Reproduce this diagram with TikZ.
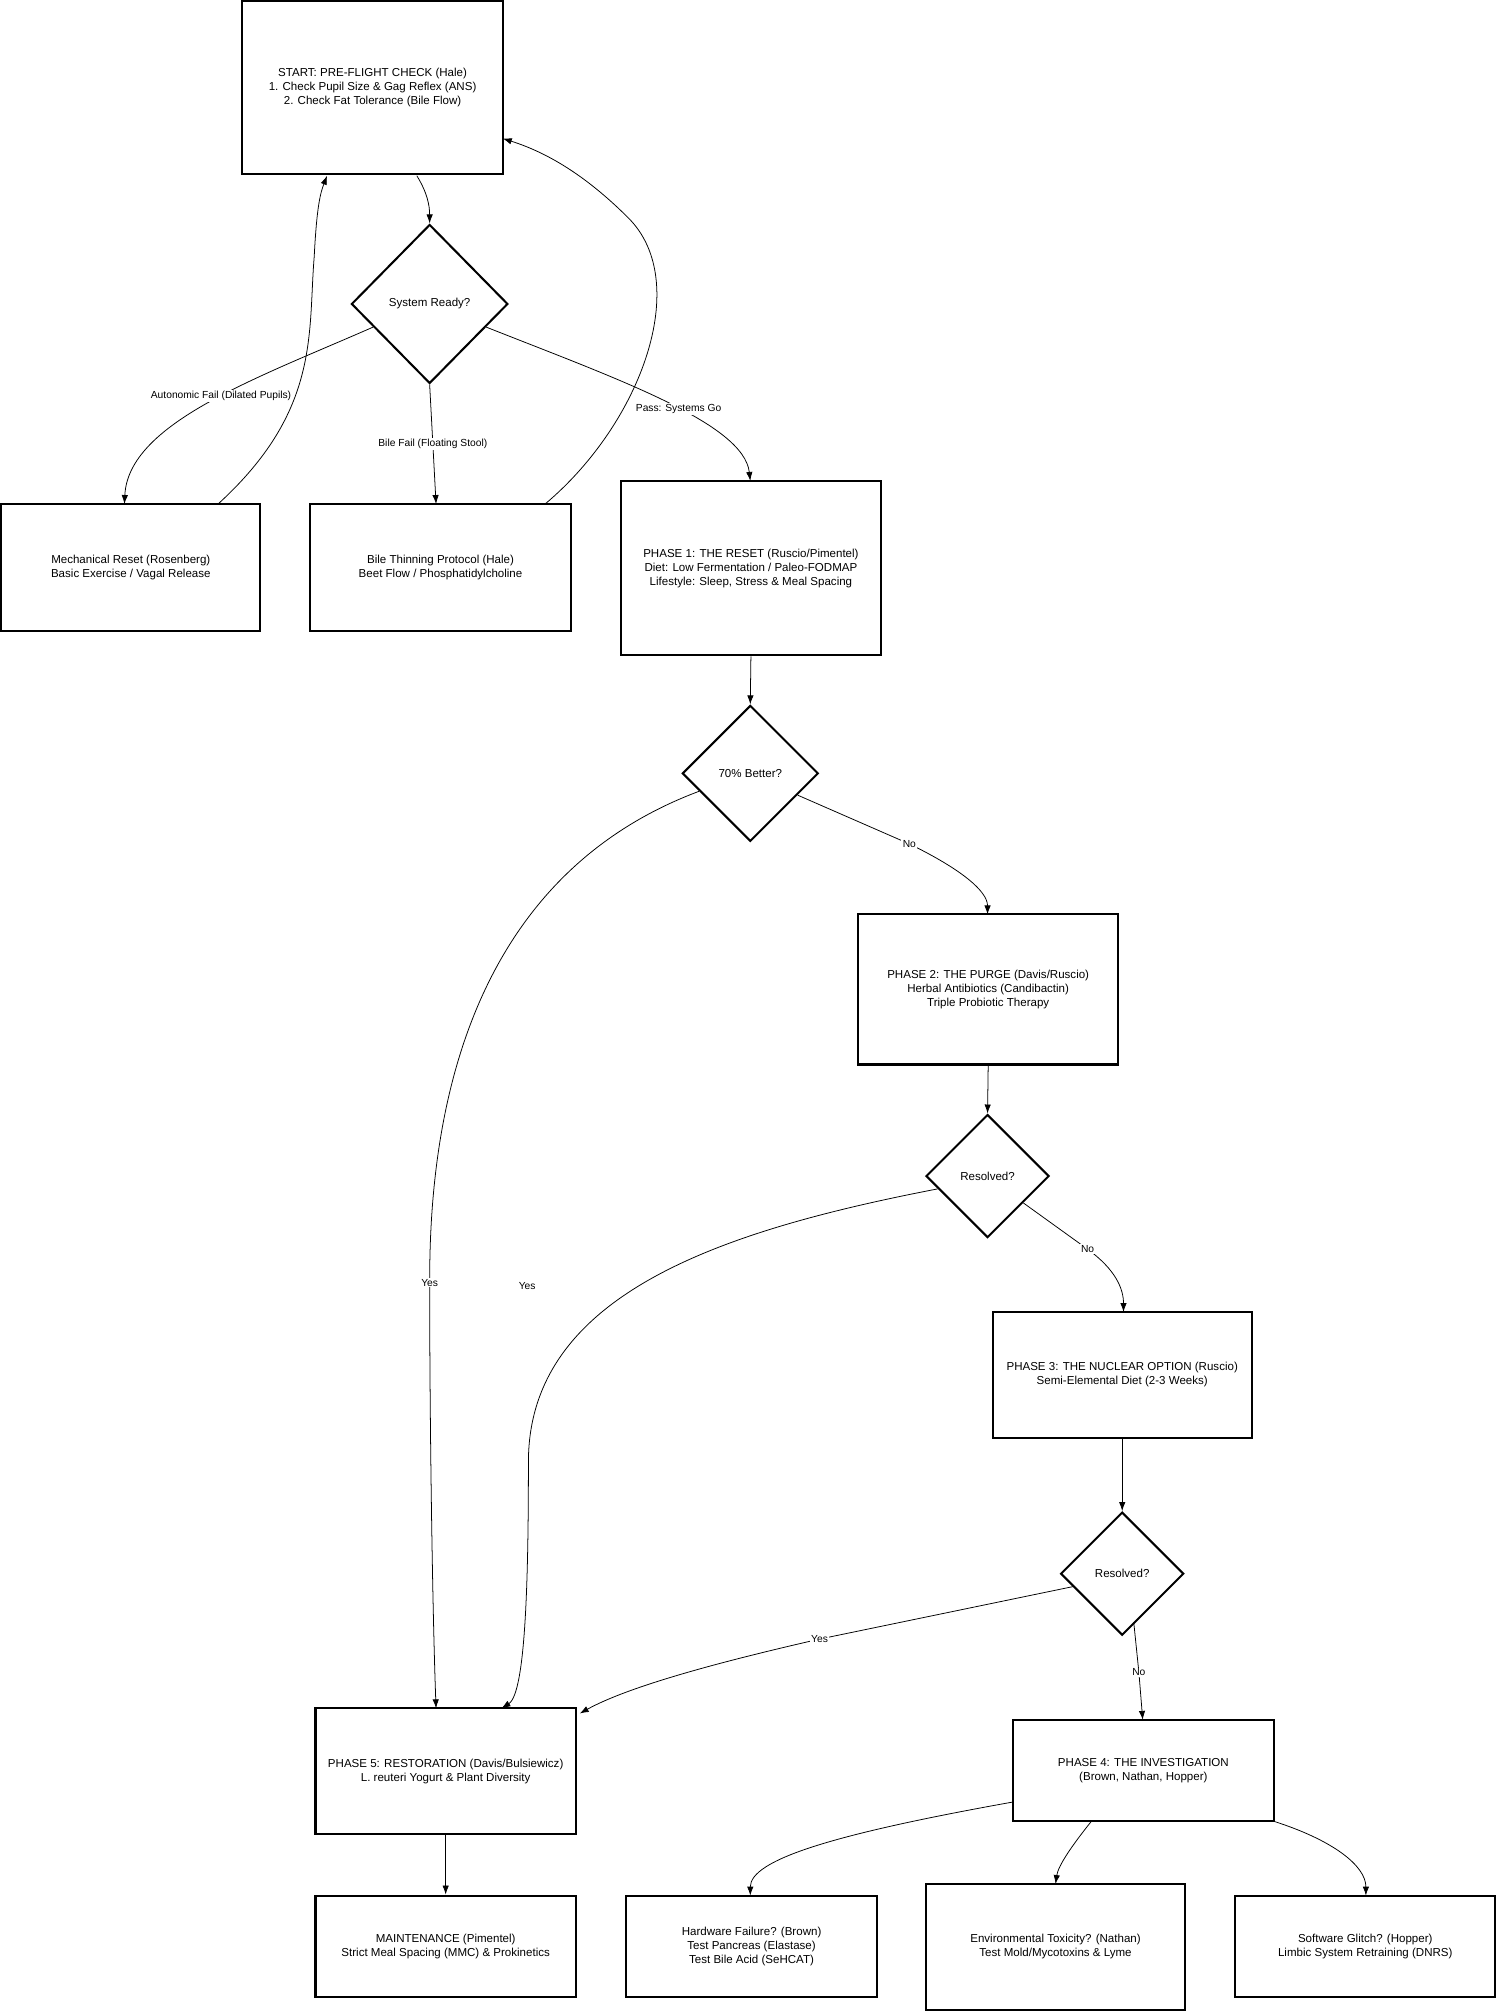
\documentclass[tikz,border=0pt]{standalone}
\usepackage{fontspec}
\setmainfont{Liberation Sans}
\usetikzlibrary{shapes.geometric,arrows.meta}
\begin{document}
\begin{tikzpicture}[x=1pt,y=-1pt,
 box/.style={draw,line width=1.6pt,align=center,font=\fontsize{9}{11}\selectfont,inner sep=0pt},
 dia/.style={draw,line width=1.6pt,diamond,inner sep=0pt,font=\fontsize{9}{11}\selectfont},
 ar/.style={-{Latex[length=7pt,width=5pt]},line width=0.6pt},
 lab/.style={fill=white,inner sep=1pt,font=\fontsize{8}{10}\selectfont}]
\useasboundingbox (0,0) rectangle (1167,1568);
\newcommand{\bx}[6]{\node[box,minimum width=#4-#2,minimum height=#5-#3] (#1) at ({(#2+#4)/2},{(#3+#5)/2}) {#6};}
\bx{start}{189}{1}{392}{136}{START: PRE-FLIGHT CHECK (Hale)\\1. Check Pupil Size \& Gag Reflex (ANS)\\2. Check Fat Tolerance (Bile Flow)}
\bx{mech}{1}{393}{203}{492}{Mechanical Reset (Rosenberg)\\Basic Exercise / Vagal Release}
\bx{bile}{242}{393}{445}{492}{Bile Thinning Protocol (Hale)\\Beet Flow / Phosphatidylcholine}
\bx{p1}{484}{375}{687}{511}{PHASE 1: THE RESET (Ruscio/Pimentel)\\Diet: Low Fermentation / Paleo-FODMAP\\Lifestyle: Sleep, Stress \& Meal Spacing}
\bx{p2}{669}{713}{872}{830}{PHASE 2: THE PURGE (Davis/Ruscio)\\Herbal Antibiotics (Candibactin)\\Triple Probiotic Therapy}
\bx{p3}{774}{1023}{976}{1121}{PHASE 3: THE NUCLEAR OPTION (Ruscio)\\Semi-Elemental Diet (2-3 Weeks)}
\bx{p5}{246}{1332}{449}{1430}{PHASE 5: RESTORATION (Davis/Bulsiewicz)\\L. reuteri Yogurt \& Plant Diversity}
\bx{p4}{790}{1341}{993}{1420}{PHASE 4: THE INVESTIGATION\\(Brown, Nathan, Hopper)}
\bx{maint}{246}{1478}{449}{1557}{MAINTENANCE (Pimentel)\\Strict Meal Spacing (MMC) \& Prokinetics}
\bx{hw}{488}{1478}{684}{1557}{Hardware Failure? (Brown)\\Test Pancreas (Elastase)\\Test Bile Acid (SeHCAT)}
\bx{env}{722}{1469}{924}{1567}{Environmental Toxicity? (Nathan)\\Test Mold/Mycotoxins \& Lyme}
\bx{sw}{963}{1478}{1166}{1557}{Software Glitch? (Hopper)\\Limbic System Retraining (DNRS)}
\node[dia,minimum width=122pt,minimum height=124pt] (d0) at (335,237) {System Ready?};
\node[dia,minimum width=106pt,minimum height=106pt] (d1) at (585,603) {70\% Better?};
\node[dia,minimum width=96pt,minimum height=96pt] (d2) at (770,917) {Resolved?};
\node[dia,minimum width=96pt,minimum height=96pt] (d3) at (875,1227) {Resolved?};
\coordinate (y2) at (411,1003);
\node[lab] at (y2) {Yes};
\draw[ar] (325,137) .. controls (333,150) and (335,160) .. (d0.north);
\draw[ar] (291,255) .. controls (200,295) and (100,330) .. (97,393) node[lab,pos=0.45] {Autonomic Fail (Dilated Pupils)};
\draw[ar] (d0.south) -- (340,393) node[lab,pos=0.5] {Bile Fail (Floating Stool)};
\draw[ar] (379,255) .. controls (480,295) and (580,330) .. (585,375) node[lab,pos=0.55] {Pass: Systems Go};
\draw[ar] (170,393) .. controls (250,320) and (240,260) .. (245,200) .. controls (247,160) and (250,150) .. (255,137);
\draw[ar] (425,393) .. controls (500,330) and (540,220) .. (490,170) .. controls (460,140) and (430,120) .. (392,108);
\draw[ar] (p1.south) -- (d1.north);
\draw[ar] (545,617) .. controls (350,690) and (335,900) .. (335,1000) .. controls (335,1100) and (337,1250) .. (340,1332) node[lab,pos=0] {Yes};
\draw[ar] (622,620) -- (709,658) node[lab]{No} .. controls (750,678) and (770,695) .. (770,713);
\draw[ar] (p2.south) -- (d2.north);
\draw[ar] (731,927) .. controls (560,960) and (412,1010) .. (412,1140) .. controls (412,1230) and (410,1320) .. (391,1332);
\draw[ar] (798,938) -- (848,974) node[lab]{No} .. controls (870,990) and (876,1005) .. (876,1023);
\draw[ar] (p3.south) -- (d3.north);
\draw[ar] (837,1237) -- (639,1278) node[lab]{Yes} .. controls (560,1296) and (490,1315) .. (452,1336);
\draw[ar] (884,1265) -- (888,1304) node[lab]{No} -- (891,1341);
\draw[ar] (p5.south) -- (maint.north);
\draw[ar] (790,1405) .. controls (650,1430) and (585,1450) .. (585,1478);
\draw[ar] (851,1420) .. controls (835,1440) and (825,1455) .. (823,1469);
\draw[ar] (993,1420) .. controls (1040,1435) and (1065,1455) .. (1065,1478);
\end{tikzpicture}
\end{document}
